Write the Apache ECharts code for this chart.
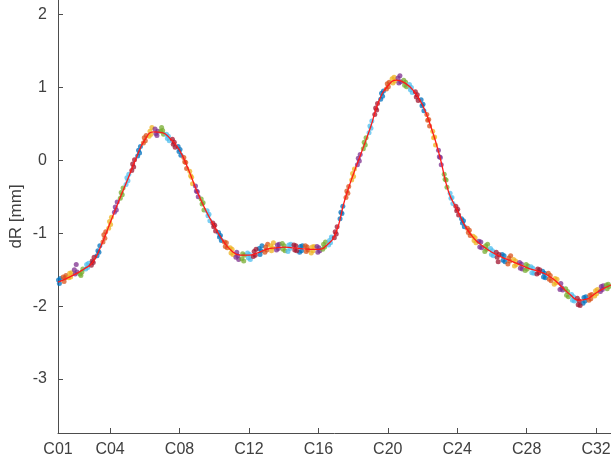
<!DOCTYPE html>
<html>
<head>
<meta charset="utf-8">
<script src="https://cdn.jsdelivr.net/npm/echarts@6/dist/echarts.min.js"></script>
<style>html,body{margin:0;padding:0;background:#fff}#c{width:611px;height:459px}</style>
</head>
<body>
<div id="c"></div>
<script>
// Category tick labels (positions on the continuous x axis)
const tickPositions = [1, 4, 8, 12, 16, 20, 24, 28, 32];
const tickLabels = ['C01', 'C04', 'C08', 'C12', 'C16', 'C20', 'C24', 'C28', 'C32'];
const yTicks = [-3, -2, -1, 0, 1, 2];

// Fitted red curve
const curveX = [1,1.5,2,2.5,3,3.5,4,4.5,5,5.5,6,6.5,7,7.5,8,8.5,9,9.5,10,10.5,11,11.5,12,12.5,13,13.5,14,14.5,15,15.5,16,16.5,17,17.5,18,18.5,19,19.5,20,20.5,21,21.5,22,22.5,23,23.5,24,24.5,25,25.5,26,26.5,27,27.5,28,28.5,29,29.5,30,30.5,31,31.5,32,32.5,32.86];
const curveY = [-1.67,-1.62,-1.56,-1.49,-1.40,-1.16,-0.86,-0.56,-0.27,0.03,0.28,0.39,0.38,0.29,0.14,-0.12,-0.42,-0.68,-0.90,-1.10,-1.24,-1.30,-1.30,-1.27,-1.22,-1.20,-1.19,-1.20,-1.21,-1.22,-1.22,-1.16,-1.00,-0.56,-0.20,0.12,0.45,0.82,1.02,1.10,1.06,0.95,0.76,0.45,0.05,-0.43,-0.68,-0.92,-1.08,-1.18,-1.26,-1.32,-1.37,-1.42,-1.47,-1.51,-1.55,-1.62,-1.73,-1.84,-1.92,-1.90,-1.82,-1.75,-1.71];

// Measured point clusters, in order along the x axis
const dotClusters = [
 [[0.98,-1.68],[1.03,-1.64],[1.08,-1.69],[1.13,-1.62]],
 [[1.30,-1.60],[1.35,-1.66],[1.41,-1.61],[1.46,-1.58]],
 [[1.62,-1.61],[1.67,-1.55],[1.73,-1.60],[1.78,-1.54]],
 [[1.94,-1.50],[1.99,-1.56],[2.05,-1.43],[2.10,-1.53]],
 [[2.27,-1.56],[2.32,-1.58],[2.38,-1.53],[2.43,-1.49]],
 [[2.60,-1.49],[2.65,-1.43],[2.71,-1.47],[2.76,-1.41]],
 [[2.92,-1.44],[2.97,-1.38],[3.03,-1.40],[3.08,-1.33]],
 [[3.25,-1.31],[3.30,-1.24],[3.36,-1.26],[3.41,-1.17]],
 [[3.59,-1.12],[3.64,-1.02],[3.70,-1.07],[3.75,-0.98]],
 [[3.92,-0.93],[3.97,-0.84],[4.03,-0.88],[4.08,-0.78]],
 [[4.25,-0.71],[4.30,-0.64],[4.36,-0.68],[4.41,-0.57]],
 [[4.59,-0.52],[4.64,-0.44],[4.70,-0.47],[4.75,-0.38]],
 [[4.92,-0.33],[4.97,-0.24],[5.03,-0.28],[5.08,-0.19]],
 [[5.25,-0.14],[5.30,-0.05],[5.36,-0.09],[5.41,0.01]],
 [[5.59,0.06],[5.64,0.14],[5.70,0.10],[5.75,0.19]],
 [[5.92,0.24],[5.97,0.31],[6.03,0.27],[6.08,0.34]],
 [[6.25,0.33],[6.30,0.40],[6.36,0.36],[6.41,0.45]],
 [[6.59,0.43],[6.64,0.37],[6.70,0.34],[6.75,0.40]],
 [[6.92,0.40],[6.97,0.45],[7.03,0.41],[7.08,0.36]],
 [[7.25,0.36],[7.30,0.30],[7.36,0.33],[7.41,0.27]],
 [[7.59,0.29],[7.64,0.22],[7.70,0.25],[7.75,0.18]],
 [[7.92,0.19],[7.97,0.12],[8.03,0.15],[8.08,0.07]],
 [[8.25,0.04],[8.30,-0.02],[8.36,-0.03],[8.41,-0.11]],
 [[8.59,-0.15],[8.64,-0.21],[8.70,-0.23],[8.75,-0.32]],
 [[8.92,-0.35],[8.97,-0.42],[9.03,-0.43],[9.08,-0.50]],
 [[9.25,-0.53],[9.30,-0.60],[9.36,-0.58],[9.41,-0.68]],
 [[9.59,-0.69],[9.64,-0.76],[9.70,-0.74],[9.75,-0.83]],
 [[9.92,-0.86],[9.97,-0.91],[10.03,-0.89],[10.08,-0.97]],
 [[10.25,-0.99],[10.30,-1.05],[10.36,-1.03],[10.41,-1.10]],
 [[10.59,-1.12],[10.64,-1.18],[10.70,-1.13],[10.75,-1.20]],
 [[10.92,-1.20],[10.97,-1.27],[11.03,-1.22],[11.08,-1.29]],
 [[11.25,-1.33],[11.30,-1.26],[11.36,-1.31],[11.41,-1.36]],
 [[11.59,-1.35],[11.64,-1.28],[11.70,-1.38],[11.75,-1.30]],
 [[11.92,-1.27],[11.97,-1.34],[12.03,-1.29],[12.08,-1.36]],
 [[12.25,-1.32],[12.30,-1.25],[12.36,-1.30],[12.41,-1.22]],
 [[12.59,-1.21],[12.64,-1.29],[12.70,-1.24],[12.75,-1.17]],
 [[12.92,-1.26],[12.97,-1.19],[13.03,-1.23],[13.08,-1.15]],
 [[13.25,-1.17],[13.30,-1.24],[13.36,-1.20],[13.41,-1.13]],
 [[13.59,-1.23],[13.64,-1.16],[13.70,-1.21],[13.75,-1.15]],
 [[13.92,-1.14],[13.97,-1.22],[14.03,-1.17],[14.08,-1.24]],
 [[14.25,-1.25],[14.30,-1.16],[14.36,-1.21],[14.41,-1.15]],
 [[14.59,-1.16],[14.64,-1.23],[14.70,-1.17],[14.75,-1.24]],
 [[14.92,-1.26],[14.97,-1.18],[15.03,-1.24],[15.08,-1.17]],
 [[15.25,-1.17],[15.30,-1.25],[15.36,-1.19],[15.41,-1.23]],
 [[15.59,-1.27],[15.64,-1.19],[15.70,-1.24],[15.75,-1.18]],
 [[15.92,-1.18],[15.97,-1.26],[16.03,-1.20],[16.08,-1.24]],
 [[16.25,-1.22],[16.30,-1.15],[16.36,-1.19],[16.41,-1.12]],
 [[16.59,-1.16],[16.64,-1.10],[16.70,-1.13],[16.75,-1.05]],
 [[16.92,-1.06],[16.97,-0.98],[17.03,-1.01],[17.08,-0.91]],
 [[17.25,-0.80],[17.30,-0.71],[17.36,-0.73],[17.41,-0.63]],
 [[17.59,-0.51],[17.64,-0.42],[17.70,-0.45],[17.75,-0.36]],
 [[17.92,-0.27],[17.97,-0.18],[18.03,-0.22],[18.08,-0.12]],
 [[18.25,-0.06],[18.30,0.03],[18.36,-0.01],[18.41,0.08]],
 [[18.59,0.16],[18.64,0.25],[18.70,0.21],[18.75,0.31]],
 [[18.92,0.38],[18.97,0.47],[19.03,0.44],[19.08,0.54]],
 [[19.25,0.63],[19.30,0.72],[19.36,0.69],[19.41,0.78]],
 [[19.59,0.84],[19.64,0.92],[19.70,0.88],[19.75,0.95]],
 [[19.92,0.98],[19.97,1.05],[20.03,1.01],[20.08,1.07]],
 [[20.25,1.12],[20.30,1.06],[20.36,1.14],[20.41,1.09]],
 [[20.59,1.13],[20.64,1.06],[20.70,1.16],[20.75,1.08]],
 [[20.92,1.10],[20.97,1.03],[21.03,1.07],[21.08,1.01]],
 [[21.25,1.04],[21.30,0.97],[21.36,1.00],[21.41,0.93]],
 [[21.59,0.94],[21.64,0.87],[21.70,0.90],[21.75,0.82]],
 [[21.92,0.83],[21.97,0.75],[22.03,0.77],[22.08,0.68]],
 [[22.25,0.63],[22.30,0.55],[22.36,0.56],[22.41,0.47]],
 [[22.59,0.40],[22.64,0.31],[22.70,0.32],[22.75,0.21]],
 [[22.92,0.14],[22.97,0.05],[23.03,0.04],[23.08,-0.06]],
 [[23.25,-0.19],[23.30,-0.26],[23.36,-0.27],[23.41,-0.37]],
 [[23.59,-0.45],[23.64,-0.52],[23.70,-0.51],[23.75,-0.59]],
 [[23.92,-0.63],[23.97,-0.69],[24.03,-0.67],[24.08,-0.75]],
 [[24.25,-0.80],[24.30,-0.86],[24.36,-0.83],[24.41,-0.91]],
 [[24.59,-0.93],[24.64,-0.99],[24.70,-0.96],[24.75,-1.03]],
 [[24.92,-1.04],[24.97,-1.10],[25.03,-1.06],[25.08,-1.13]],
 [[25.25,-1.11],[25.30,-1.19],[25.36,-1.12],[25.41,-1.20]],
 [[25.59,-1.25],[25.64,-1.17],[25.70,-1.22],[25.75,-1.15]],
 [[25.92,-1.21],[25.97,-1.29],[26.03,-1.24],[26.08,-1.31]],
 [[26.25,-1.26],[26.30,-1.33],[26.36,-1.39],[26.41,-1.29]],
 [[26.59,-1.29],[26.64,-1.37],[26.70,-1.31],[26.75,-1.39]],
 [[26.92,-1.42],[26.97,-1.34],[27.03,-1.38],[27.08,-1.31]],
 [[27.25,-1.36],[27.30,-1.45],[27.36,-1.38],[27.41,-1.43]],
 [[27.59,-1.40],[27.64,-1.48],[27.70,-1.42],[27.75,-1.49]],
 [[27.92,-1.51],[27.97,-1.43],[28.03,-1.49],[28.08,-1.45]],
 [[28.25,-1.46],[28.30,-1.54],[28.36,-1.48],[28.41,-1.55]],
 [[28.59,-1.56],[28.64,-1.49],[28.70,-1.54],[28.75,-1.50]],
 [[28.92,-1.52],[28.97,-1.60],[29.03,-1.55],[29.08,-1.61]],
 [[29.25,-1.55],[29.30,-1.63],[29.36,-1.58],[29.41,-1.65]],
 [[29.59,-1.70],[29.64,-1.62],[29.70,-1.68],[29.75,-1.63]],
 [[29.92,-1.77],[29.97,-1.69],[30.03,-1.75],[30.08,-1.78]],
 [[30.25,-1.76],[30.30,-1.85],[30.36,-1.80],[30.41,-1.87]],
 [[30.59,-1.84],[30.64,-1.92],[30.70,-1.87],[30.75,-1.93]],
 [[30.92,-1.89],[30.97,-1.98],[31.03,-1.93],[31.08,-1.99]],
 [[31.25,-1.96],[31.30,-1.88],[31.36,-1.93],[31.41,-1.87]],
 [[31.59,-1.92],[31.64,-1.85],[31.70,-1.90],[31.75,-1.84]],
 [[31.92,-1.86],[31.97,-1.79],[32.03,-1.83],[32.08,-1.77]],
 [[32.25,-1.80],[32.30,-1.73],[32.36,-1.77],[32.41,-1.72]],
 [[32.59,-1.71],[32.64,-1.76],[32.70,-1.70],[32.75,-1.73]]
];

const palette = ['#0072BD', '#D95319', '#EDB120', '#7E2F8E', '#77AC30', '#4DBEEE', '#A2142F'];

const groups = palette.map(() => []);
dotClusters.forEach((cl, i) => {
  const g = groups[i % palette.length];
  cl.forEach(p => g.push(p));
});

const font = "'Liberation Sans', Arial, Helvetica, sans-serif";
const axisGray = '#4d4d4d';
const textGray = '#404040';

const series = groups.map((g, i) => ({
  type: 'scatter',
  data: g,
  symbolSize: 5,
  itemStyle: { color: palette[i], opacity: 0.75 },
  silent: true,
  z: 2
}));
series.push({
  type: 'line',
  data: curveX.map((x, i) => [x, curveY[i]]),
  smooth: true,
  showSymbol: false,
  lineStyle: { color: '#ff1a1a', width: 1.3 },
  z: 3,
  silent: true
});

const chart = echarts.init(document.getElementById('c'));
chart.setOption({
  animation: false,
  backgroundColor: '#ffffff',
  grid: { left: 58, right: 0, top: 0, bottom: 26, containLabel: false, outerBoundsMode: 'none' },
  xAxis: {
    type: 'value',
    min: 1,
    max: 32.86,
    axisLine: { show: true, onZero: false, lineStyle: { color: axisGray, width: 1 } },
    axisTick: { show: true, inside: true, length: 5, lineStyle: { color: axisGray }, customValues: tickPositions },
    axisLabel: {
      show: true, customValues: tickPositions, margin: 9,
      color: textGray, fontSize: 16, fontFamily: font,
      formatter: v => tickLabels[tickPositions.indexOf(Math.round(v))] || ''
    },
    splitLine: { show: false }
  },
  yAxis: {
    type: 'value',
    min: -3.74,
    max: 2.2,
    name: 'dR [mm]',
    nameLocation: 'middle',
    nameGap: 33,
    nameMoveOverlap: false,
    nameTextStyle: { color: textGray, fontSize: 17, fontFamily: font },
    axisLine: { show: true, onZero: false, lineStyle: { color: axisGray, width: 1 } },
    axisTick: { show: true, inside: true, length: 5, lineStyle: { color: axisGray }, customValues: yTicks },
    axisLabel: { show: true, customValues: yTicks, margin: 11, color: textGray, fontSize: 16, fontFamily: font },
    splitLine: { show: false }
  },
  series: series
});
</script>
</body>
</html>
